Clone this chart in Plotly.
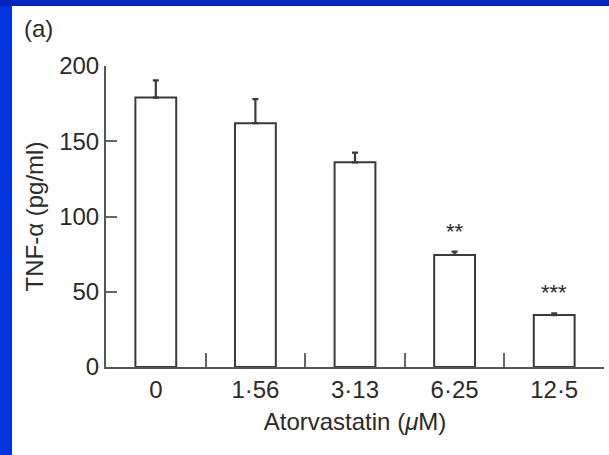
import plotly.graph_objects as go

categories = ["0", "1·56", "3·13", "6·25", "12·5"]
tnf_mean = [179, 162, 136, 74.5, 34.5]
tnf_err = [11.5, 16, 6.5, 2.2, 1.2]
significance = ["", "", "", "**", "***"]
y_ticks = [0, 50, 100, 150, 200]

FONT = "Liberation Sans, Arial, sans-serif"
TXT = "#2a2a2a"
FS = 24

fig = go.Figure()
fig.add_trace(go.Bar(
    x=categories, y=tnf_mean, width=0.41,
    marker=dict(color="white", line=dict(color="#3a3a3a", width=2)),
    error_y=dict(type="data", array=tnf_err, arrayminus=[0]*len(tnf_err),
                 symmetric=False, color="#3a3a3a", thickness=2.2, width=3),
    showlegend=False,
))

for c, m, e, s in zip(categories, tnf_mean, tnf_err, significance):
    if s:
        fig.add_annotation(x=c, y=m + e, text=s, showarrow=False,
                           yanchor="bottom", yshift=6,
                           font=dict(family=FONT, size=22, color=TXT))

# blue frame (left and top strips)
W, H = 609, 455
L, R, T, B = 106, 5, 66, 88
pw, ph = W - L - R, H - T - B
def px(x): return (x - L) / pw
def py(y): return (H - B - y) / ph
fig.add_shape(type="rect", xref="paper", yref="paper", layer="below",
              x0=px(-2), x1=px(12), y0=py(H + 2), y1=py(-2),
              line_width=0, fillcolor="#0434e2")
fig.add_shape(type="rect", xref="paper", yref="paper", layer="below",
              x0=px(-2), x1=px(W + 2), y0=py(6), y1=py(-2),
              line_width=0, fillcolor="#0524b8")

fig.add_annotation(xref="paper", yref="paper", x=px(22), y=py(29),
                   xanchor="left", yanchor="middle", text="(a)", showarrow=False,
                   font=dict(family=FONT, size=FS, color=TXT))

fig.update_layout(
    width=W, height=H,
    margin=dict(l=L, r=R, t=T, b=B),
    paper_bgcolor="white", plot_bgcolor="white",
    font=dict(family=FONT, size=FS, color=TXT),
)
fig.update_xaxes(
    type="category", range=[-0.5, 4.5], tickson="boundaries",
    ticks="inside", ticklen=14, tickwidth=2, tickcolor="#666",
    showline=True, linecolor="#555", linewidth=2,
    showgrid=False, zeroline=False,
    tickfont=dict(family=FONT, size=FS, color=TXT),
    title=dict(text="Atorvastatin (<i>μ</i>M)", standoff=11,
               font=dict(family=FONT, size=FS, color=TXT)),
)
fig.update_yaxes(
    range=[0, 200], tickvals=y_ticks,
    ticks="inside", ticklen=11, tickwidth=2, tickcolor="#666",
    showline=True, linecolor="#555", linewidth=2,
    showgrid=False, zeroline=False,
    tickfont=dict(family=FONT, size=FS, color=TXT),
    title=dict(text="TNF-α (pg/ml)", standoff=9,
               font=dict(family=FONT, size=FS, color=TXT)),
)

fig.write_html("out.html")
